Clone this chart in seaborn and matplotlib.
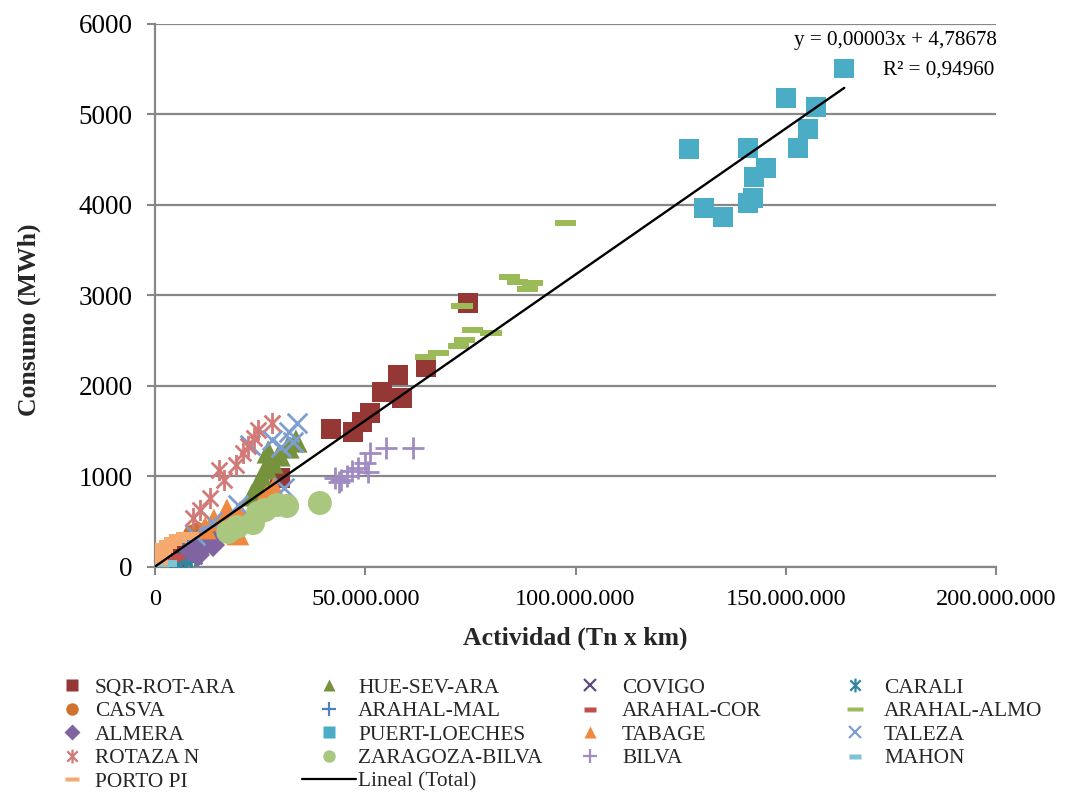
import numpy as np
import matplotlib
matplotlib.use("Agg")
import matplotlib.pyplot as plt
import seaborn as sns
from matplotlib.path import Path
from matplotlib.lines import Line2D
from matplotlib.ticker import FuncFormatter

# ---------------------------------------------------------------------------
# Data: activity in millions of Tn x km, consumption in MWh, one pair per route
# ---------------------------------------------------------------------------
sqr_rot_ara_x = [41.9, 47.1, 49.2, 51.1, 54.0, 57.8, 58.7, 64.4, 74.4, 29.7, 5.5, 7.1, 8.8]
sqr_rot_ara_y = [1525, 1492, 1602, 1702, 1934, 2122, 1867, 2210, 2917, 983, 100, 155, 210]

hue_sev_ara_x = [33.5, 31.6, 29.5, 27.8, 26.4, 25.4, 24.3, 23.1, 26.9]
hue_sev_ara_y = [1392, 1326, 1238, 1160, 1094, 994, 895, 796, 1271]

covigo_x = [10.5, 11.5, 12.2]
covigo_y = [300, 345, 395]

carali_x = [5.0, 6.2, 7.2, 8.5, 9.6]
carali_y = [60, 72, 82, 95, 110]

casva_x = [9.0, 10.2]
casva_y = [360, 385]

arahal_mal_x = [8.0, 10.0, 12.0]
arahal_mal_y = [250, 300, 330]

arahal_cor_x = [4.5, 5.5]
arahal_cor_y = [95, 110]

arahal_almo_x = [97.7, 84.2, 86.3, 89.7, 88.5, 73.0, 75.4, 79.9, 73.7, 72.1, 67.5, 64.4]
arahal_almo_y = [3801, 3204, 3149, 3138, 3072, 2884, 2619, 2586, 2508, 2442, 2365, 2320]

almera_x = [8.3, 9.8, 10.7, 11.9, 13.1, 10.2, 13.8, 15.0]
almera_y = [188, 243, 188, 298, 354, 133, 243, 354]

puert_loeches_x = [163.9, 150.1, 157.2, 155.3, 152.9, 141.0, 127.0, 145.3, 142.4, 142.2, 141.0, 130.6, 135.1]
puert_loeches_y = [5510, 5180, 5080, 4840, 4630, 4630, 4620, 4410, 4310, 4080, 4020, 3970, 3870]

tabage_x = [28.3, 26.6, 25.4, 20.2, 17.1, 19.7, 14.0, 11.9]
tabage_y = [873, 785, 718, 608, 630, 365, 519, 431]

taleza_x = [33.8, 31.9, 32.8, 30.0, 27.8, 22.6, 30.7, 19.7, 13.6, 9.5]
taleza_y = [1591, 1492, 1381, 1326, 1403, 1348, 873, 685, 497, 354]

rotaza_n_x = [27.8, 24.5, 23.5, 22.1, 20.9, 19.3, 16.4, 15.2, 13.1, 10.7, 9.0]
rotaza_n_y = [1591, 1514, 1425, 1337, 1260, 1127, 961, 1072, 762, 630, 541]

zaragoza_bilva_x = [39.2, 31.4, 29.0, 24.5, 23.3, 19.5, 17.4, 26.2]
zaragoza_bilva_y = [707, 674, 685, 597, 486, 442, 387, 630]

bilva_x = [61.4, 54.9, 51.1, 50.7, 49.9, 48.3, 46.8, 45.7, 44.2, 42.8, 43.8]
bilva_y = [1315, 1315, 1260, 1050, 1149, 1094, 1061, 1006, 961, 983, 940]

mahon_x = [0.5, 1.5, 2.5, 3.5]
mahon_y = [20, 25, 30, 40]

porto_pi_x = [0.3, 1.0, 1.6, 2.4, 3.6, 4.8, 6.2, 7.8]
porto_pi_y = [60, 130, 190, 230, 265, 300, 330, 354]

# Trend line label (Excel style)
trend_equation = "y = 0,00003x + 4,78678"
trend_r2 = "R² = 0,94960"
trend_intercept = 4.78678

x_ticks = [0, 50_000_000, 100_000_000, 150_000_000, 200_000_000]
y_ticks = [0, 1000, 2000, 3000, 4000, 5000, 6000]

# ---------------------------------------------------------------------------
# Marker shapes
# ---------------------------------------------------------------------------
asterisk = Path(
    [(0, -1), (0, 1), (-0.75, -0.75), (0.75, 0.75), (-0.75, 0.75), (0.75, -0.75)],
    [Path.MOVETO, Path.LINETO] * 3,
)
long_dash = Path(
    [(-1, -0.27), (1, -0.27), (1, 0.27), (-1, 0.27), (-1, -0.27)],
    [Path.MOVETO, Path.LINETO, Path.LINETO, Path.LINETO, Path.CLOSEPOLY],
)
short_dash = Path(
    [(-1, -0.45), (1, -0.45), (1, 0.45), (-1, 0.45), (-1, -0.45)],
    [Path.MOVETO, Path.LINETO, Path.LINETO, Path.LINETO, Path.CLOSEPOLY],
)

# name, x, y, marker, colour, size (points^2), kind, legend marker size
series = [
    ("SQR-ROT-ARA", sqr_rot_ara_x, sqr_rot_ara_y, "s", "#953735", 200, "fill", 8.5),
    ("HUE-SEV-ARA", hue_sev_ara_x, hue_sev_ara_y, "^", "#76923C", 280, "fill", 9),
    ("COVIGO", covigo_x, covigo_y, "x", "#5F497A", 170, "line", 9),
    ("CARALI", carali_x, carali_y, asterisk, "#31859C", 170, "path", 10),
    ("CASVA", casva_x, casva_y, "o", "#D0722F", 200, "fill", 9),
    ("ARAHAL-MAL", arahal_mal_x, arahal_mal_y, "+", "#4F81BD", 200, "line", 10),
    ("ARAHAL-COR", arahal_cor_x, arahal_cor_y, short_dash, "#C0504D", 110, "fill", 8),
    ("ARAHAL-ALMO", arahal_almo_x, arahal_almo_y, long_dash, "#9BBB59", 230, "fill", 12),
    ("ALMERA", almera_x, almera_y, "D", "#8064A2", 150, "fill", 8),
    ("PUERT-LOECHES", puert_loeches_x, puert_loeches_y, "s", "#4BACC6", 200, "fill", 8.5),
    ("TABAGE", tabage_x, tabage_y, "^", "#F0883E", 270, "fill", 9),
    ("TALEZA", taleza_x, taleza_y, "x", "#7E9ED2", 200, "line", 9),
    ("ROTAZA N", rotaza_n_x, rotaza_n_y, asterisk, "#D27A78", 230, "path", 10),
    ("ZARAGOZA-BILVA", zaragoza_bilva_x, zaragoza_bilva_y, "o", "#A9C77F", 300, "fill", 9),
    ("BILVA", bilva_x, bilva_y, "+", "#A08CC2", 230, "line", 10),
    ("MAHON", mahon_x, mahon_y, short_dash, "#7EC3D6", 110, "fill", 8),
    ("PORTO PI", porto_pi_x, porto_pi_y, long_dash, "#F6AA70", 280, "fill", 10),
]

# ---------------------------------------------------------------------------
# Figure
# ---------------------------------------------------------------------------
sns.set_theme(style="white")
plt.rcParams["font.family"] = ["Liberation Serif", "DejaVu Serif"]

fig = plt.figure(figsize=(10.67, 7.92), dpi=100)
ax = fig.add_axes([0.1453, 0.2841, 0.7882, 0.6856])

grid_grey = "#878787"
handles = []
all_x, all_y = [], []
for name, xs, ys, marker, color, size, kind, leg_size in series:
    xv = np.asarray(xs) * 1e6
    yv = np.asarray(ys, dtype=float)
    all_x.append(xv)
    all_y.append(yv)
    if kind == "fill":
        sns.scatterplot(x=xv, y=yv, ax=ax, marker=marker, s=size, color=color,
                        edgecolor="none", linewidth=0, zorder=3)
        h = Line2D([], [], linestyle="none", marker=marker, markersize=leg_size,
                   markerfacecolor=color, markeredgecolor="none")
    elif kind == "path":
        sns.scatterplot(x=xv, y=yv, ax=ax, marker=marker, s=size, color=color,
                        edgecolor=color, linewidth=2.0, zorder=3)
        h = Line2D([], [], linestyle="none", marker=marker, markersize=leg_size,
                   markerfacecolor=color, markeredgecolor=color, markeredgewidth=1.6)
    else:
        sns.scatterplot(x=xv, y=yv, ax=ax, marker=marker, s=size, color=color,
                        linewidth=2.0, zorder=3)
        h = Line2D([], [], linestyle="none", marker=marker, markersize=leg_size,
                   color=color, markeredgewidth=1.6)
    handles.append((h, name))

# Linear trend of all points, keeping the reported intercept
xa = np.concatenate(all_x)
ya = np.concatenate(all_y)
slope = np.sum(xa * (ya - trend_intercept)) / np.sum(xa * xa)
xl = np.array([0.0, xa.max()])
sns.lineplot(x=xl, y=slope * xl + trend_intercept, ax=ax, color="black",
             linewidth=1.7, zorder=4)
handles.append((Line2D([], [], color="black", linewidth=1.6), "Lineal (Total)"))

ax.text(1.001, 0.969, trend_equation, transform=ax.transAxes, ha="right",
        va="center", fontsize=15.2, color="black")
ax.text(0.998, 0.915, trend_r2, transform=ax.transAxes, ha="right",
        va="center", fontsize=15.2, color="black")

# Axes
ax.set_xlim(0, 200_000_000)
ax.set_ylim(0, 6000)
ax.set_xticks(x_ticks)
ax.set_yticks(y_ticks)
ax.xaxis.set_major_formatter(FuncFormatter(lambda v, p: f"{int(round(v)):,}".replace(",", ".")))
ax.tick_params(axis="both", direction="out", length=6, width=1.5, color=grid_grey,
               pad=10, labelcolor="black")
ax.tick_params(axis="x", bottom=True, labelsize=17.5)
ax.tick_params(axis="y", left=True, labelsize=19.5)
ax.yaxis.grid(True, color=grid_grey, linewidth=1.6)
ax.xaxis.grid(False)
for side in ("top", "right"):
    ax.spines[side].set_visible(False)
for side in ("left", "bottom"):
    ax.spines[side].set_color(grid_grey)
    ax.spines[side].set_linewidth(1.6)
ax.set_axisbelow(True)

ax.set_xlabel("Actividad (Tn x km)", fontsize=18.5, fontweight="bold")
ax.set_ylabel("Consumo (MWh)", fontsize=18.5, fontweight="bold")
ax.xaxis.set_label_coords(0.5, -0.110)
ax.yaxis.set_label_coords(-0.135, 0.455)

# Legend: four columns laid out row by row
W, H = 1067.0, 792.0
fs = 15.4
fs_px = fs * 100 / 72
columns = [handles[i::4] for i in range(4)]
centers = [72, 329, 590, 855]
text_starts = [95, 358, 622, 884]
pad = 2.0
for col, cx, tx in zip(columns, centers, text_starts):
    half = tx - pad - cx
    hl = 2 * half / fs_px
    x0 = cx - half
    fig.legend([c[0] for c in col], [c[1] for c in col], loc="upper left",
               bbox_to_anchor=(x0 / W, 1 - 678 / H), bbox_transform=fig.transFigure,
               frameon=False, fontsize=fs, handlelength=hl,
               handletextpad=pad / fs_px, labelspacing=0.16, borderpad=0,
               borderaxespad=0)

fig.savefig("out.png", dpi=100, facecolor="white")
